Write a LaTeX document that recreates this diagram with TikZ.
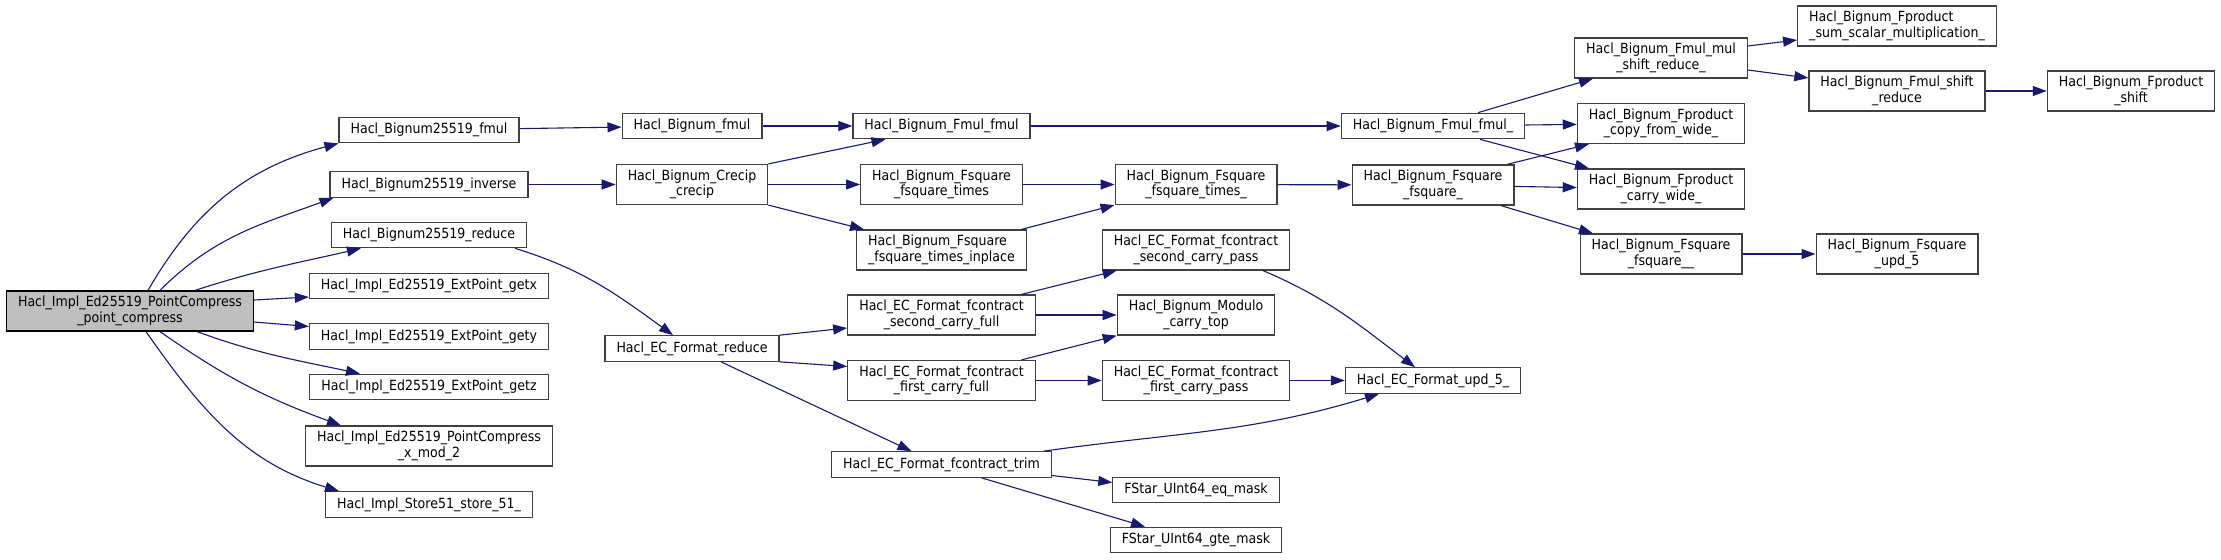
\documentclass[tikz,border=0pt]{standalone}
\usepackage{fontspec}
\setmainfont{DejaVu Sans}[FakeStretch=0.9]
\usetikzlibrary{arrows.meta}
\definecolor{edgeblue}{HTML}{191970}
\definecolor{rootgrey}{HTML}{BFBFBF}
\definecolor{boxline}{HTML}{404040}

\begin{document}
\begin{tikzpicture}[x=0.5pt,y=0.5pt,
        fn/.style={draw=boxline,line width=0.6pt,fill=white,inner xsep=5.75pt,inner ysep=0pt,minimum height=12.75pt,font=\fontsize{7}{7.7}\selectfont},
        fn2/.style={fn,minimum height=20pt,align=center},
        fnl/.style={fn2,align=left},
        call/.style={draw=edgeblue,line width=0.55pt,-{Triangle[length=7pt,width=5pt]}}]
        \useasboundingbox (0,0) rectangle (2221,559);

        \node[fn2,draw=black,fill=rootgrey] (pc) at (130,248) {Hacl\_Impl\_Ed25519\_PointCompress\\\_point\_compress};

        \node[fn] (bfmul) at (429,429) {Hacl\_Bignum25519\_fmul};
        \node[fn] (binv) at (429,374.5) {Hacl\_Bignum25519\_inverse};
        \node[fn] (bred) at (429,324) {Hacl\_Bignum25519\_reduce};
        \node[fn] (getx) at (429,273) {Hacl\_Impl\_Ed25519\_ExtPoint\_getx};
        \node[fn] (gety) at (429,222.5) {Hacl\_Impl\_Ed25519\_ExtPoint\_gety};
        \node[fn] (getz) at (429,172) {Hacl\_Impl\_Ed25519\_ExtPoint\_getz};
        \node[fn2] (xmod) at (429,113) {Hacl\_Impl\_Ed25519\_PointCompress\\\_x\_mod\_2};
        \node[fn] (store) at (429,54.5) {Hacl\_Impl\_Store51\_store\_51\_};

        \node[fn] (fmul) at (692,433) {Hacl\_Bignum\_fmul};
        \node[fn2] (crecip) at (692,374.5) {Hacl\_Bignum\_Crecip\\\_crecip};
        \node[fn] (ecred) at (692,210.5) {Hacl\_EC\_Format\_reduce};

        \node[fn] (fmulfmul) at (941.5,433) {Hacl\_Bignum\_Fmul\_fmul};
        \node[fn2] (sqtimes) at (941.5,374.5) {Hacl\_Bignum\_Fsquare\\\_fsquare\_times};
        \node[fnl] (sqinplace) at (941.5,309) {Hacl\_Bignum\_Fsquare\\\_fsquare\_times\_inplace};
        \node[fn2] (scfull) at (941.5,244) {Hacl\_EC\_Format\_fcontract\\\_second\_carry\_full};
        \node[fn2] (fcfull) at (941.5,178.5) {Hacl\_EC\_Format\_fcontract\\\_first\_carry\_full};
        \node[fn] (trim) at (941.5,94.5) {Hacl\_EC\_Format\_fcontract\_trim};

        \node[fn2] (sqtimesu) at (1196,374.5) {Hacl\_Bignum\_Fsquare\\\_fsquare\_times\_};
        \node[fn2] (scpass) at (1196,309) {Hacl\_EC\_Format\_fcontract\\\_second\_carry\_pass};
        \node[fn2] (carrytop) at (1196,244) {Hacl\_Bignum\_Modulo\\\_carry\_top};
        \node[fn2] (fcpass) at (1196,178.5) {Hacl\_EC\_Format\_fcontract\\\_first\_carry\_pass};
        \node[fn] (eqmask) at (1196,69) {FStar\_UInt64\_eq\_mask};
        \node[fn] (gtemask) at (1196,19) {FStar\_UInt64\_gte\_mask};

        \node[fn] (fmulu) at (1433,433) {Hacl\_Bignum\_Fmul\_fmul\_};
        \node[fn2] (squ) at (1433,374) {Hacl\_Bignum\_Fsquare\\\_fsquare\_};
        \node[fn] (upd) at (1433,178.5) {Hacl\_EC\_Format\_upd\_5\_};

        \node[fn2] (mulshift) at (1661,501) {Hacl\_Bignum\_Fmul\_mul\\\_shift\_reduce\_};
        \node[fn2] (copywide) at (1661,435.5) {Hacl\_Bignum\_Fproduct\\\_copy\_from\_wide\_};
        \node[fn2] (carrywide) at (1661,370) {Hacl\_Bignum\_Fproduct\\\_carry\_wide\_};
        \node[fn2] (squu) at (1661,305) {Hacl\_Bignum\_Fsquare\\\_fsquare\_\_};

        \node[fnl] (sumscalar) at (1897,533) {Hacl\_Bignum\_Fproduct\\\_sum\_scalar\_multiplication\_};
        \node[fn2] (shiftred) at (1897,468) {Hacl\_Bignum\_Fmul\_shift\\\_reduce};
        \node[fn2] (squpd) at (1897,305) {Hacl\_Bignum\_Fsquare\\\_upd\_5};

        \node[fn2] (pshift) at (2131,468) {Hacl\_Bignum\_Fproduct\\\_shift};

        \draw[call] ([xshift=9pt]pc.north) to[out=60,in=195] (bfmul.south west);
        \draw[call] ([xshift=15pt]pc.north) to[out=45,in=200] ([xshift=2pt]binv.south west);
        \draw[call] ([xshift=32.5pt]pc.north) to[out=18,in=193] ([xshift=15pt]bred.south west);
        \draw[call] ([yshift=5.5pt]pc.east) -- ([yshift=-5.5pt]getx.west);
        \draw[call] ([yshift=-5.5pt]pc.east) -- ([yshift=5pt]gety.west);
        \draw[call] ([xshift=33.5pt]pc.south) to[out=-20,in=168] ([xshift=-34.5pt]getz.north);
        \draw[call] ([xshift=15pt]pc.south) to[out=-35,in=160] ([xshift=-44pt]xmod.north);
        \draw[call] ([xshift=8pt]pc.south) to[out=-55,in=163] ([xshift=-45pt]store.north);

        \draw[call] (bfmul) -- (fmul);
        \draw[call] (binv) -- (crecip);
        \draw[call] ([xshift=43pt]bred.south) to[out=-17,in=144] ([xshift=-9.5pt]ecred.north);

        \draw[call] (fmul) -- (fmulfmul);
        \draw[call] (crecip.north east) -- ([xshift=-28pt]fmulfmul.south);
        \draw[call] (crecip) -- (sqtimes);
        \draw[call] (crecip.south east) -- ([xshift=-38.75pt]sqinplace.north);

        \draw[call] (fmulfmul) -- (fmulu);
        \draw[call] (sqtimes) -- (sqtimesu);
        \draw[call] ([xshift=40pt]sqinplace.north) -- (sqtimesu.south west);
        \draw[call] (sqtimesu) -- (squ);

        \draw[call] ([xshift=22.5pt]fmulu.north) -- ([xshift=-34pt]mulshift.south);
        \draw[call] (fmulu) -- (copywide);
        \draw[call] ([xshift=23.5pt]fmulu.south) -- ([xshift=-36pt]carrywide.north);
        \draw[call] ([xshift=37pt]squ.north) -- ([xshift=-36pt]copywide.south);
        \draw[call] (squ) -- (carrywide);
        \draw[call] ([xshift=34pt]squ.south) -- ([xshift=-34pt]squu.north);

        \draw[call] ([yshift=6pt]mulshift.east) -- ([yshift=-7pt]sumscalar.west);
        \draw[call] ([yshift=-6pt]mulshift.east) -- ([yshift=6.5pt]shiftred.west);
        \draw[call] (shiftred) -- (pshift);
        \draw[call] (squu) -- (squpd);

        \draw[call] (ecred.north east) -- ([yshift=-6.5pt]scfull.west);
        \draw[call] (ecred.south east) -- ([yshift=7pt]fcfull.west);
        \draw[call] ([xshift=14.5pt]ecred.south) -- ([xshift=-15pt]trim.north);

        \draw[call] ([xshift=40pt]scfull.north) -- ([xshift=7.5pt]scpass.south west);
        \draw[call] (scfull) -- (carrytop);
        \draw[call] ([xshift=40pt]fcfull.north) -- (carrytop.south west);
        \draw[call] (fcfull) -- (fcpass);
        \draw[call] ([xshift=33.5pt]scpass.south) to[out=-23,in=143] ([xshift=-9pt]upd.north);
        \draw[call] (fcpass) -- (upd);
        \draw[call] ([xshift=51pt]trim.north) to[out=8,in=197] ([xshift=-27pt]upd.south);
        \draw[call] ([yshift=-5.5pt]trim.east) -- ([yshift=3.75pt]eqmask.west);
        \draw[call] ([xshift=20pt]trim.south) -- ([xshift=-25.5pt]gtemask.north);
\end{tikzpicture}
\end{document}
